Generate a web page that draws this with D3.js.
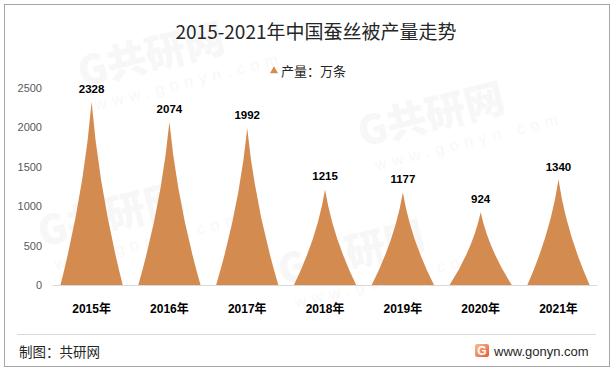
<!DOCTYPE html>
<html>
<head>
<meta charset="utf-8">
<script src="https://cdn.jsdelivr.net/npm/d3@7"></script>
<style>
    body { margin: 0; background: #fff; }
    svg { display: block; }
    .tick_label { font-family: "Liberation Sans", sans-serif; font-size: 11px; fill: #595959; }
    .value_label { font-family: "Liberation Sans", sans-serif; font-size: 11.5px; font-weight: bold; fill: #000; }
    .cat_label { font-family: "Liberation Sans", "Noto Sans CJK SC", sans-serif; font-size: 12px; font-weight: bold; fill: #000; }
    .title { font-family: "Noto Sans CJK SC", sans-serif; font-size: 19px; fill: #262626; }
    .legend { font-family: "Noto Sans CJK SC", sans-serif; font-size: 13px; fill: #262626; }
    .footer { font-family: "Noto Sans CJK SC", sans-serif; font-size: 13.5px; fill: #262626; }
    .site { font-family: "Liberation Sans", sans-serif; font-size: 13px; fill: #262626; }
    .wm { font-family: "Noto Sans CJK SC", sans-serif; font-weight: 900; fill: #000; opacity: 0.028; }
    .wm_url { font-family: "Liberation Sans", sans-serif; fill: #000; opacity: 0.028; letter-spacing: 6px; }
</style>
</head>
<body>
<svg id="chart" width="614" height="371"></svg>
<script>
// chart data
var years = ["2015年", "2016年", "2017年", "2018年", "2019年", "2020年", "2021年"];
var output = [2328, 2074, 1992, 1215, 1177, 924, 1340];
var yTicks = [0, 500, 1000, 1500, 2000, 2500];
var titleText = "2015-2021年中国蚕丝被产量走势";
var legendText = "产量：万条";

var svg1 = d3.select("#chart");
var color = "#D38B50";

// Faint watermarks in the background
var marks = [[150, 70], [430, 130], [350, 268], [110, 230]];
marks.forEach(function (m) {
    var g = svg1.append("g")
        .attr("transform", "translate(" + m[0] + "," + m[1] + ") rotate(-14)");
    g.append("text")
        .attr("class", "wm")
        .attr("x", -70)
        .attr("y", 0)
        .style("font-size", "40px")
        .text("G共研网");
    g.append("text")
        .attr("class", "wm_url")
        .attr("x", -62)
        .attr("y", 26)
        .style("font-size", "16px")
        .text("www.gonyn.com");
});

// Outer frame
svg1.append("rect")
    .attr("x", 4.5)
    .attr("y", 4.5)
    .attr("width", 605)
    .attr("height", 362)
    .attr("fill", "none")
    .attr("stroke", "#A6A6A6");

// Title
svg1.append("text")
    .attr("class", "title")
    .attr("x", 316)
    .attr("y", 39)
    .attr("text-anchor", "middle")
    .text(titleText);

// Legend
svg1.append("path")
    .attr("d", d3.symbol().type(d3.symbolTriangle).size(28)())
    .attr("transform", "translate(274,71)")
    .attr("fill", color);
svg1.append("text")
    .attr("class", "legend")
    .attr("x", 281)
    .attr("y", 76)
    .text(legendText);

// Scales
var x = d3.scaleBand()
    .domain(years)
    .range([52.7, 597.4])
    .paddingInner(0)
    .paddingOuter(0);

var y = d3.scaleLinear()
    .domain([0, 2500])
    .range([285, 88.3]);

// Y axis labels (no line)
svg1.selectAll(".tick_label")
    .data(yTicks)
    .enter()
    .append("text")
    .attr("class", "tick_label")
    .attr("x", 42)
    .attr("y", d => y(d))
    .attr("dy", "0.35em")
    .attr("text-anchor", "end")
    .text(d => d);

// Pointed peaks: quadratic curves from base corners to the apex
function peak(d, i) {
    var xc = x(years[i]) + x.bandwidth() / 2;
    var hw = x.bandwidth() * 0.4;
    var y0 = y(0);
    var yt = y(d);
    var h = y0 - yt;
    return "M" + (xc - hw) + "," + y0
        + "Q" + (xc - hw * 0.25) + "," + (y0 - h * 0.5) + " " + xc + "," + yt
        + "Q" + (xc + hw * 0.25) + "," + (y0 - h * 0.5) + " " + (xc + hw) + "," + y0
        + "Z";
}

svg1.selectAll(".peak")
    .data(output)
    .enter()
    .append("path")
    .attr("class", "peak")
    .attr("d", peak)
    .attr("fill", color);

// Baseline
svg1.append("line")
    .attr("x1", x.range()[0])
    .attr("x2", x.range()[1])
    .attr("y1", y(0) + 0.5)
    .attr("y2", y(0) + 0.5)
    .attr("stroke", "#D9D9D9")
    .attr("stroke-width", 1);

// Value labels
svg1.selectAll(".value_label")
    .data(output)
    .enter()
    .append("text")
    .attr("class", "value_label")
    .attr("x", (d, i) => x(years[i]) + x.bandwidth() / 2)
    .attr("y", d => y(d) - 9)
    .attr("text-anchor", "middle")
    .text(d => d);

// Category labels
svg1.selectAll(".cat_label")
    .data(years)
    .enter()
    .append("text")
    .attr("class", "cat_label")
    .attr("x", d => x(d) + x.bandwidth() / 2)
    .attr("y", 313)
    .attr("text-anchor", "middle")
    .text(d => d);

// Footer separator
svg1.append("line")
    .attr("x1", 17)
    .attr("x2", 596)
    .attr("y1", 334.5)
    .attr("y2", 334.5)
    .attr("stroke", "#D9D9D9");

svg1.append("text")
    .attr("class", "footer")
    .attr("x", 19)
    .attr("y", 357)
    .text("制图：共研网");

// Site logo
var logo = svg1.append("g").attr("transform", "translate(475,344)");
var grad = svg1.append("defs").append("linearGradient")
    .attr("id", "logoGrad")
    .attr("x1", 0).attr("y1", 0).attr("x2", 1).attr("y2", 1);
grad.append("stop").attr("offset", "0%").attr("stop-color", "#F6C08A");
grad.append("stop").attr("offset", "100%").attr("stop-color", "#E9573F");
logo.append("rect")
    .attr("width", 14)
    .attr("height", 13)
    .attr("rx", 2)
    .attr("fill", "url(#logoGrad)");
logo.append("text")
    .attr("x", 7)
    .attr("y", 11)
    .attr("text-anchor", "middle")
    .style("font-family", "Liberation Sans, sans-serif")
    .style("font-weight", "bold")
    .style("font-size", "12px")
    .attr("fill", "#fff")
    .text("G");

svg1.append("text")
    .attr("class", "site")
    .attr("x", 494)
    .attr("y", 356)
    .text("www.gonyn.com");
</script>
</body>
</html>
